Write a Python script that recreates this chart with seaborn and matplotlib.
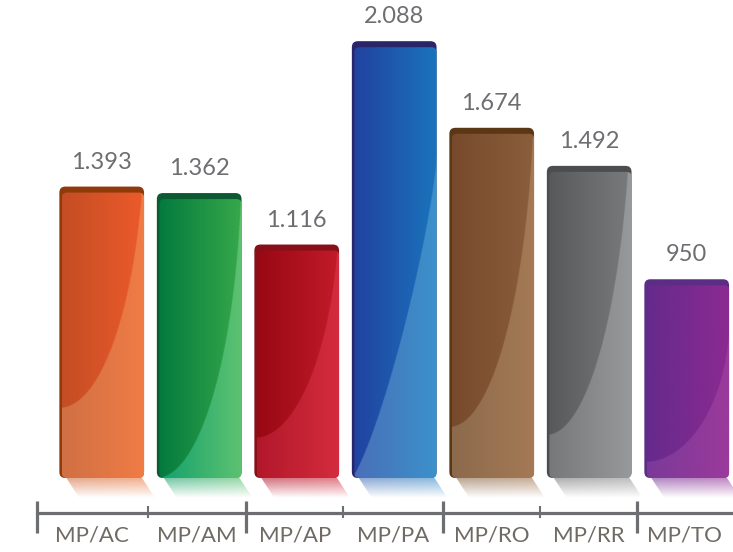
import numpy as np
import pandas as pd
import matplotlib
matplotlib.use("Agg")
import matplotlib.pyplot as plt
import seaborn as sns
from matplotlib.patches import FancyBboxPatch, Polygon
from matplotlib.colors import to_rgb

# ---- data ----
categories = ["MP/AC", "MP/AM", "MP/AP", "MP/PA", "MP/RO", "MP/RR", "MP/TO"]
values = [1393, 1362, 1116, 2088, 1674, 1492, 950]
value_labels = ["1.393", "1.362", "1.116", "2.088", "1.674", "1.492", "950"]

# ---- style ----
rim_colors = ["#8e3a0c", "#0b5a32", "#86101a", "#2a2468", "#5c3716", "#4c4d4f", "#5b2d84"]
upper_left = ["#c44d24", "#037a3e", "#980813", "#2142a0", "#764a2b", "#58595b", "#652a8c"]
upper_right = ["#ec5b2b", "#37a84b", "#c21b29", "#1a74bc", "#8b5f3c", "#7a7b7d", "#8c2a91"]
gloss_left = ["#d07044", "#11a06c", "#b2182a", "#4a6fb8", "#8c6a4c", "#77787a", "#7a3a98"]
gloss_right = ["#f07c46", "#5ec271", "#d42c3e", "#3b91cb", "#a57a55", "#98999b", "#9b3a9c"]
gloss_start_px = [408, 478, 438, 478, 427, 435, 462]   # where curve meets left edge
gloss_center_px = [117, 149, 193, 157, 60, 60, 314]     # curve centre (y) at left edge
gloss_power = [2, 2, 2, 1.25, 2, 2, 2]

W_PX, H_PX = 733, 552
XC0, XS = 101.7, 97.5      # px of first bar centre, px per category
Y0, YS = 478.0, 4.78       # px of baseline, data units per px


def px2x(px):
    return (px - XC0) / XS


def py2y(py):
    return (Y0 - py) * YS


sns.set_theme(style="white")
plt.rcParams["font.family"] = ["Lato", "DejaVu Sans"]

fig = plt.figure(figsize=(W_PX / 100, H_PX / 100), dpi=100)
ax = fig.add_axes([0, 0, 1, 1])

df = pd.DataFrame({"cat": categories, "val": values})
sns.barplot(data=df, x="cat", y="val", ax=ax, width=84.7 / XS, color="#cccccc")

XL = (px2x(0), px2x(W_PX))
YL = (py2y(H_PX), py2y(0))
MA = YS * XS  # y-units per x-unit for equal pixel lengths


def rbox(x0, y0, x1, y1, r_px, **kw):
    return FancyBboxPatch((x0, y0), x1 - x0, y1 - y0,
                          boxstyle=f"round,pad=0,rounding_size={r_px / XS}",
                          mutation_aspect=MA, **kw)


for i, p in enumerate(ax.patches):
    p.set_visible(False)
    x0 = p.get_x()
    x1 = x0 + p.get_width()
    h = p.get_height()
    L = XC0 + x0 * XS
    R = XC0 + x1 * XS
    T = Y0 - h / YS
    B = Y0

    # rim (dark back plate)
    rim = rbox(x0, py2y(B), x1, py2y(T), 6, facecolor=rim_colors[i],
               edgecolor="none", zorder=2)
    ax.add_patch(rim)

    # face with gradient + gloss
    fL, fT = L + 2.5, T + 6
    face = rbox(px2x(fL), py2y(B), x1, py2y(fT), 5, facecolor="none",
                edgecolor="none", zorder=3)
    ax.add_patch(face)
    nx, ny = int(R - fL) * 3, int(B - fT) * 3
    xs = np.linspace(0, 1, nx)[None, :, None]
    ypx = np.linspace(fT, B, ny)[:, None]
    xpx = np.linspace(fL, R, nx)[None, :]
    up = (1 - xs) * np.array(to_rgb(upper_left[i])) + xs * np.array(to_rgb(upper_right[i]))
    gl = (1 - xs) * np.array(to_rgb(gloss_left[i])) + xs * np.array(to_rgb(gloss_right[i]))
    up = np.broadcast_to(up, (ny, nx, 3))
    gl = np.broadcast_to(gl, (ny, nx, 3))
    yS, yE, pw = gloss_start_px[i], gloss_center_px[i], gloss_power[i]
    a = R - L
    b = yS - yE
    val = np.abs((xpx - L) / a) ** pw + np.abs((ypx - yE) / b) ** pw
    mask = ((val > 1) & (ypx > yE)) | (ypx >= yS)
    img = np.where(mask[:, :, None], gl, up)
    im = ax.imshow(img, extent=(px2x(fL), x1, py2y(B), py2y(fT)), origin="upper",
                   aspect="auto", interpolation="bilinear", zorder=3)
    im.set_clip_path(face)

    # reflection under bar
    rt, rb = B, B + 20
    poly = Polygon([(px2x(L + 7), py2y(rt)), (px2x(R - 2), py2y(rt)),
                    (px2x(R + 11), py2y(rb)), (px2x(L + 20), py2y(rb))],
                   closed=True, facecolor="none", edgecolor="none", zorder=1)
    ax.add_patch(poly)
    nrx, nry = 60, 40
    xr = np.linspace(0, 1, nrx)[None, :, None]
    col = (1 - xr) * np.array(to_rgb(gloss_left[i])) + xr * np.array(to_rgb(gloss_right[i]))
    col = np.broadcast_to(col, (nry, nrx, 3))
    alpha = np.linspace(0.6, 0.0, nry)[:, None, None] * np.ones((1, nrx, 1))
    rimg = np.concatenate([col, alpha], axis=2)
    rim_im = ax.imshow(rimg, extent=(px2x(L), px2x(R + 12), py2y(rb), py2y(rt)),
                       origin="upper", aspect="auto", interpolation="bilinear", zorder=1)
    rim_im.set_clip_path(poly)

    # value label
    ax.text((x0 + x1) / 2, py2y(T - 18), value_labels[i], ha="center", va="baseline",
            fontsize=17, color="#6d6e71", fontweight="normal", zorder=5)

# baseline axis with ticks
axis_col = "#6d6e71"
ax.plot([px2x(37), px2x(W_PX)], [py2y(512.7)] * 2, color=axis_col, lw=2.3,
        solid_capstyle="butt", zorder=4)
bounds_px = [37, 147.7, 246, 343.3, 443.3, 540, 636.7, 733]
for k, bx in enumerate(bounds_px[:-1]):
    if k % 2 == 0:
        ax.plot([px2x(bx)] * 2, [py2y(501), py2y(533)], color=axis_col, lw=2.3,
                solid_capstyle="butt", zorder=4)
    else:
        ax.plot([px2x(bx)] * 2, [py2y(506), py2y(518)], color=axis_col, lw=1.5,
                solid_capstyle="butt", zorder=4)
for k, lab in enumerate(categories):
    cx = (bounds_px[k] + bounds_px[k + 1]) / 2
    ax.text(px2x(cx), py2y(536), lab, ha="center", va="center", fontsize=16,
            color="#6f6a63", fontweight="normal", zorder=5)

ax.set_xlim(*XL)
ax.set_ylim(*YL)
ax.axis("off")
fig.savefig("out.png", dpi=100, facecolor="white")
